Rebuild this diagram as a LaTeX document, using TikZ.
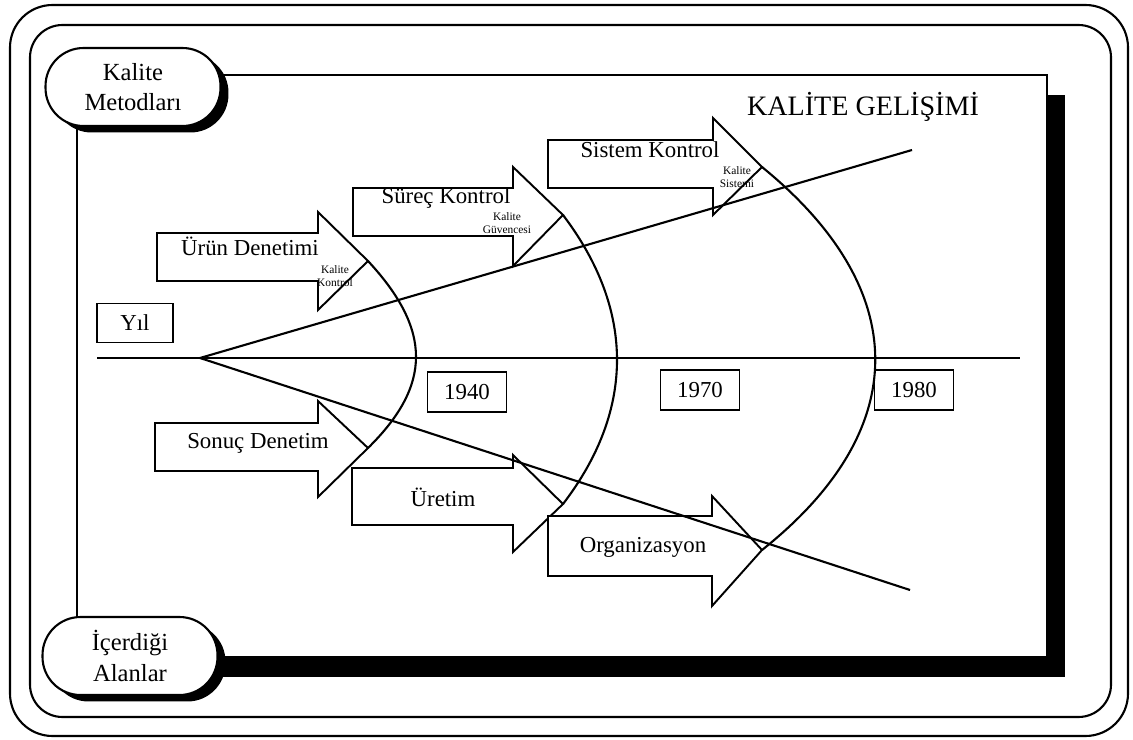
\documentclass[tikz,border=0pt]{standalone}
\usepackage{fontspec}
\setmainfont{Liberation Serif}
\usetikzlibrary{shadows}
\newcommand\blockarrow[9]{%
  \draw[barrow] (#1,#2) -- (#4,#2) -- (#4,#5) -- (#7,#8) -- (#4,#6) -- (#4,#3) -- (#1,#3) -- cycle;
  \coordinate (#9) at (#7,#8);}
\begin{document}
\begin{tikzpicture}[x=0.02cm,y=-0.02cm,
  lbl/.style={font=\fontsize{13}{15}\selectfont, inner sep=0pt},
  small/.style={font=\fontsize{6.5}{7}\selectfont, inner sep=0pt, align=center},
  ttl/.style={font=\fontsize{16}{18}\selectfont, inner sep=0pt},
  yearbox/.style={draw, line width=1.1pt, font=\fontsize{13}{15}\selectfont, minimum width=1.58cm, minimum height=0.8cm, inner sep=0pt},
  pill/.style={draw, line width=1.2pt, fill=white, rounded corners=0.76cm, minimum width=3.5cm, minimum height=1.56cm,
     align=center, font=\fontsize{14}{17.5}\selectfont, inner sep=0pt,
     drop shadow={shadow xshift=0.16cm, shadow yshift=-0.13cm, fill=black, opacity=1}},
  barrow/.style={draw, fill=white, line width=1.1pt, line join=miter},
  ln/.style={line width=1.2pt}]
\useasboundingbox (0,0) rectangle (1133,740);
% outer frames
\draw[ln, rounded corners=0.85cm] (10,5) rectangle (1128,736);
\draw[ln, rounded corners=0.65cm] (30,25) rectangle (1111,717);
% main panel with shadow
\fill[black] (95,95) rectangle (1065,677);
\draw[ln, fill=white] (77,75) rectangle (1047,657);
% pill labels
\node[pill] (km) at (133,87) {Kalite\\Metodları};
\node[pill] (ia) at (130,656) {İçerdiği\\Alanlar};
% title
\node[ttl] (title) at (863,107) {KALİTE GELİŞİMİ};
% block arrows
\blockarrow{157}{233}{281}{318}{212}{310}{368}{261}{t1}
\blockarrow{353}{188}{236}{513}{167}{266}{563}{215}{t2}
\blockarrow{548}{140}{188}{713}{118}{215}{762}{167}{t3}
\blockarrow{155}{423}{471}{318}{401}{497}{368}{448}{b1}
\blockarrow{352}{468}{525}{513}{455}{552}{563}{504}{b2}
\blockarrow{548}{516}{576}{712}{496}{606}{762}{550}{b3}
% arrow labels
\node[lbl] (l1) at (250,246) {Ürün Denetimi};
\node[small] (s1) at (335,276) {Kalite\\Kontrol};
\node[lbl] (l2) at (446,198) {Süreç Kontrol};
\node[small] (s2) at (507,223) {Kalite\\Güvencesi};
\node[lbl] (l3) at (650,150) {Sistem Kontrol};
\node[small] (s3) at (737,177) {Kalite\\Sistemi};
\node[lbl] (l4) at (258,443) {Sonuç Denetim};
\node[lbl] (l5) at (443,497) {Üretim};
\node[lbl] (l6) at (643,547) {Organizasyon};
% year boxes
\node[yearbox, minimum width=1.52cm, minimum height=0.78cm] (yil) at (135,323) {Yıl};
\node[yearbox] (y1) at (467,392) {1940};
\node[yearbox] (y2) at (700,390) {1970};
\node[yearbox] (y3) at (914,390) {1980};
% axis and converging lines
\coordinate (ax1) at (97,358);
\coordinate (ax2) at (1020,358);
\coordinate (v) at (200,358);
\coordinate (ue) at (912,150);
\coordinate (le) at (910,590);
\draw[ln] (ax1) -- (ax2);
\draw[ln] (v) -- (ue);
\draw[ln] (v) -- (le);
% curves
\draw[ln] (t1) .. controls (432,330) and (432,385) .. (b1);
\draw[ln] (t2) .. controls (635,310) and (635,410) .. (b2);
\draw[ln] (t3) .. controls (913,290) and (913,430) .. (b3);
\end{tikzpicture}
\end{document}
